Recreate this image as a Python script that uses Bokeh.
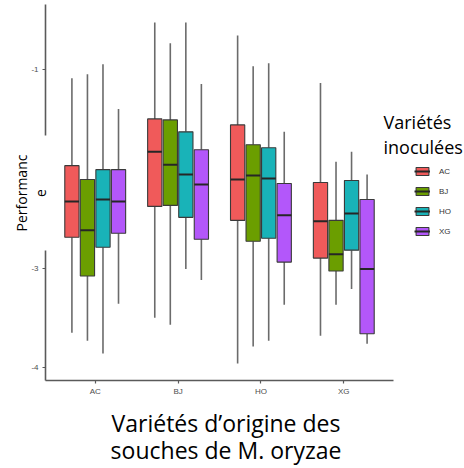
from bokeh.plotting import figure
from bokeh.models import (ColumnDataSource, FixedTicker, Label, Legend, LegendItem, Range1d)
from bokeh.embed import file_html
from bokeh.resources import INLINE

# ---- data -------------------------------------------------------------
origins = ["AC", "BJ", "HO", "XG"]          # x categories (strain origin)
inoculated = ["AC", "BJ", "HO", "XG"]       # fill groups (inoculated variety)
colors = ["#F05A5A", "#6B9E00", "#19B3B8", "#B357FA"]
y_ticks = [-4, -3, -2, -1]

# values per inoculated variety, listed in origin order AC, BJ, HO, XG
upper = {
    "AC": [-1.09, -0.53, -0.66, -1.14],
    "BJ": [-1.05, -0.74, -0.97, -1.93],
    "HO": [-0.95, -0.53, -0.94, -1.83],
    "XG": [-1.40, -1.15, -1.63, -2.06],
}
q3 = {
    "AC": [-1.97, -1.50, -1.56, -2.14],
    "BJ": [-2.11, -1.51, -1.76, -2.52],
    "HO": [-2.01, -1.63, -1.79, -2.12],
    "XG": [-2.01, -1.81, -2.15, -2.31],
}
median = {
    "AC": [-2.33, -1.83, -2.11, -2.53],
    "BJ": [-2.62, -1.96, -2.07, -2.86],
    "HO": [-2.31, -2.06, -2.10, -2.45],
    "XG": [-2.33, -2.16, -2.47, -3.01],
}
q1 = {
    "AC": [-2.69, -2.38, -2.52, -2.90],
    "BJ": [-3.08, -2.37, -2.73, -3.03],
    "HO": [-2.79, -2.49, -2.70, -2.82],
    "XG": [-2.65, -2.71, -2.94, -3.66],
}
lower = {
    "AC": [-3.65, -3.50, -3.96, -3.68],
    "BJ": [-3.73, -3.57, -3.79, -3.37],
    "HO": [-3.86, -3.01, -3.73, -3.21],
    "XG": [-3.36, -3.12, -3.37, -3.76],
}

x_title = "Variétés d’origine des\nsouches de M. oryzae"
y_title = "Performanc\ne"
legend_title = ["Variétés", "inoculées"]

# ---- figure -----------------------------------------------------------
# the frame fills the whole canvas; axes sit at fixed positions inside it
W, H = 464, 468
x_lo, x_hi = 0.4, 4.6          # panel extent (categories 1..4)
y_lo, y_top = -4.13, -0.35
px_x = 348 / (x_hi - x_lo)
px_y = 99.43
p = figure(width=W, height=H, output_backend="svg", toolbar_location=None,
           x_range=Range1d(x_lo - 45 / px_x, x_hi + 71 / px_x),
           y_range=Range1d(-4 - 101 / px_y, -1 + 68.7 / px_y),
           min_border_left=0, min_border_right=0, min_border_top=0,
           min_border_bottom=0)
p.outline_line_color = None
p.xgrid.visible = False
p.ygrid.visible = False
p.background_fill_color = "white"
p.border_fill_color = "white"

dodge = 0.75 / 4
bw = 0.172
legend_items = []
for i, v in enumerate(inoculated):
    off = -0.375 + dodge * (i + 0.5)
    xs = [k + 1 + off for k in range(len(origins))]
    src = ColumnDataSource(dict(x=xs, up=upper[v], q3=q3[v], med=median[v],
                                q1=q1[v], lo=lower[v],
                                x0=[x - bw / 2 for x in xs],
                                x1=[x + bw / 2 for x in xs]))
    p.segment(x0="x", y0="q3", x1="x", y1="up", source=src,
              line_color="#6b6b6b", line_width=1.6)
    p.segment(x0="x", y0="q1", x1="x", y1="lo", source=src,
              line_color="#6b6b6b", line_width=1.6)
    r_box = p.vbar(x="x", width=bw, top="q3", bottom="q1", source=src,
                   fill_color=colors[i], line_color="#3a3a3a", line_width=1.1)
    r_med = p.segment(x0="x0", y0="med", x1="x1", y1="med", source=src,
                      line_color="#262626", line_width=2)
    legend_items.append(LegendItem(label=v, renderers=[r_box, r_med]))

# axes
p.xaxis.fixed_location = y_lo
p.yaxis.fixed_location = x_lo
p.xaxis.bounds = (x_lo, x_hi)
p.yaxis.bounds = (y_lo, y_top)
for ax in (p.xaxis[0], p.yaxis[0]):
    ax.axis_line_color = "#5a5a5a"
    ax.axis_line_width = 1.6
    ax.major_tick_line_color = "#5a5a5a"
    ax.major_tick_line_width = 1.2
    ax.major_tick_out = 3
    ax.major_tick_in = 0
    ax.minor_tick_line_color = None
    ax.major_label_text_font = "Liberation Sans"
    ax.major_label_text_font_size = "8px"
    ax.major_label_text_color = "#4d4d4d"
    ax.major_label_standoff = 4

p.xaxis.ticker = FixedTicker(ticks=[1, 2, 3, 4])
p.xaxis.major_label_overrides = {k + 1: o for k, o in enumerate(origins)}
p.yaxis.ticker = FixedTicker(ticks=y_ticks)
p.yaxis.major_label_overrides = {t: str(t) for t in y_ticks}

# y-axis title (white box covering the axis line, as in the original)
p.add_layout(Label(x=30.5, y=275.5, x_units="screen", y_units="screen",
                   text=y_title, angle=1.5708, text_align="center",
                   text_baseline="middle", text_font="Open Sans",
                   text_font_size="14px", text_line_height=1.05,
                   text_color="black", background_fill_color="white",
                   padding=(19, 0)))

# x-axis title
p.add_layout(Label(x=225.5, y=32, x_units="screen", y_units="screen",
                   text=x_title, text_align="center", text_baseline="middle",
                   text_font="Open Sans", text_font_size="23px",
                   text_line_height=0.86, text_color="black"))

# legend title
for j, t in enumerate(legend_title):
    p.add_layout(Label(x=383, y=347 - j * 25, x_units="screen", y_units="screen",
                       text=t, text_align="left", text_baseline="middle",
                       text_font="Open Sans", text_font_size="18px",
                       text_color="black"))

legend = Legend(items=legend_items, location=(414, 232),
                glyph_width=16, glyph_height=10, label_text_font="Liberation Sans",
                label_text_font_size="8px", label_text_color="#333333",
                label_standoff=9, spacing=10, padding=0, margin=0,
                border_line_color=None, background_fill_alpha=0)
p.add_layout(legend)

open("out.html", "w").write(file_html(p, INLINE))
